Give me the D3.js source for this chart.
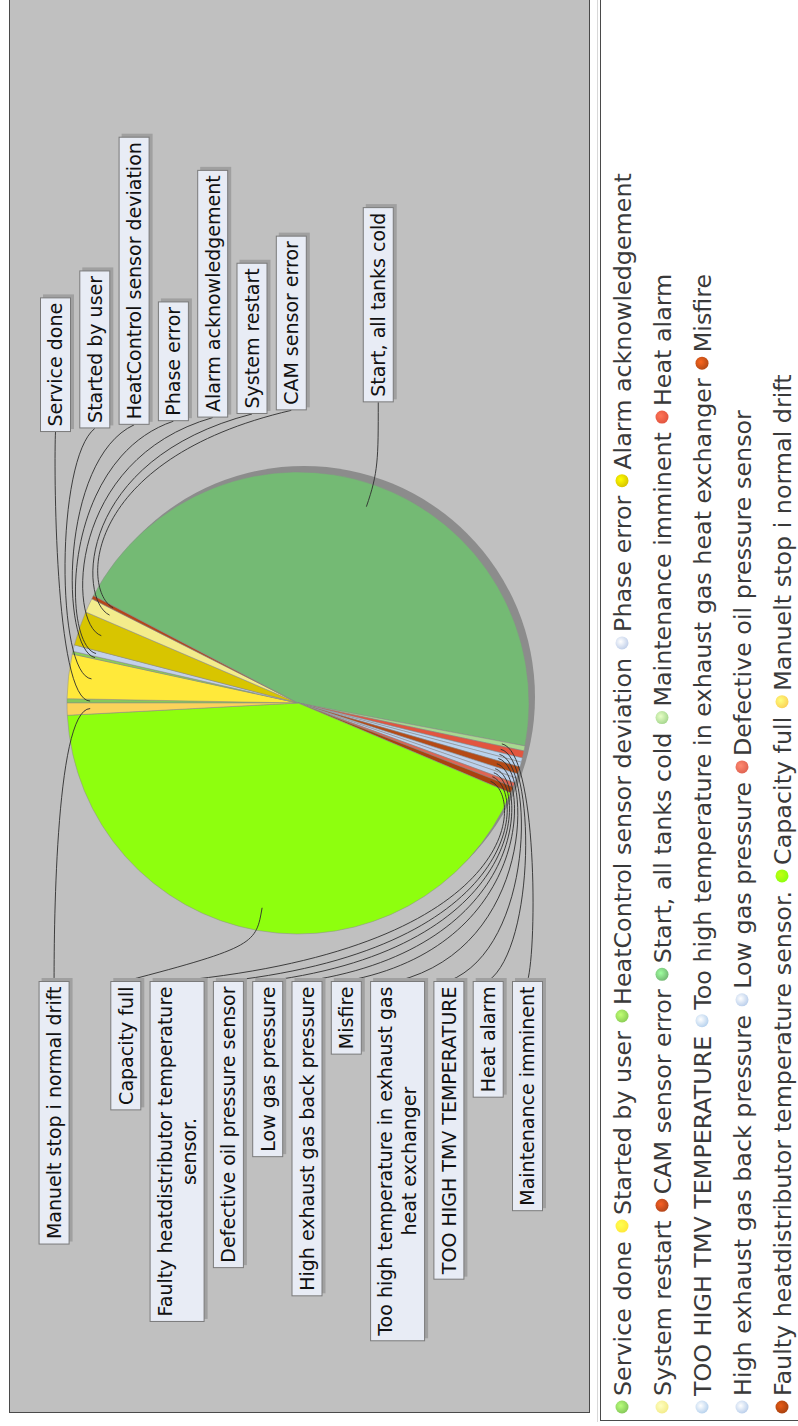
<!DOCTYPE html>
<html><head><meta charset="utf-8">
<script src="https://cdn.jsdelivr.net/npm/d3@7"></script>
<style>body{margin:0;background:#fff}svg{display:block}</style>
</head><body>
<svg id="c" width="798" height="1426"></svg>
<script>
// ---------------- data ----------------
const categories = ["Service done","Started by user","HeatControl sensor deviation","Phase error",
  "Alarm acknowledgement","System restart","CAM sensor error","Start, all tanks cold",
  "Maintenance imminent","Heat alarm","TOO HIGH TMV TEMPERATURE",
  "Too high temperature in exhaust gas heat exchanger","Misfire","High exhaust gas back pressure",
  "Low gas pressure","Defective oil pressure sensor","Faulty heatdistributor temperature sensor.",
  "Capacity full","Manuelt stop i normal drift"];
const values = [0.3,3.1,0.2,0.45,2.4,1.0,0.25,45.3,0.35,0.5,0.3,0.35,0.5,0.3,0.35,0.3,0.45,42.8,0.85];
const colors = ["#86c95a","#ffe93a","#8ccf55","#c3d1ea","#d8c500","#f3ec8c","#b4461a","#74ba74",
  "#a8d890","#e2553f","#b9d3ee","#b9d3ee","#b54a16","#bcd0ec","#bcd0ec","#e06452","#a9420f",
  "#8eff0e","#fbd35a"];

// ---------------- layout ----------------
const svg = d3.select("#c");
const FONT = "DejaVu Sans, Verdana, sans-serif";
const plot = {x0: 9.5, x1: 589.5, y0: -5, y1: 1412.5};
const cx = 298, cy = 703, R = 231;
const linkR = 244, linkPct = 0.9;

// plot background
svg.append("rect").attr("x", plot.x0).attr("y", plot.y0)
  .attr("width", plot.x1 - plot.x0).attr("height", plot.y1 - plot.y0)
  .attr("fill", "#c0c0c0").attr("stroke", "#4a4a4a").attr("stroke-width", 1);

// legend box
svg.append("rect").attr("x", 600.5).attr("y", -5).attr("width", 220).attr("height", 1425.5)
  .attr("fill", "#fff").attr("stroke", "#4a4a4a").attr("stroke-width", 1);
svg.append("line").attr("x1", 597.5).attr("x2", 597.5).attr("y1", -5).attr("y2", 1422)
  .attr("stroke", "#d8d8d8");

// pie
const pie = d3.pie().sort(null).value(d => d)
  .startAngle(-Math.PI / 2).endAngle(3 * Math.PI / 2);
const arcs = pie(values);
const arc = d3.arc().innerRadius(0).outerRadius(R);
const g = svg.append("g").attr("transform", `translate(${cx},${cy})`);
g.append("circle").attr("cx", 6).attr("cy", -6).attr("r", R).attr("fill", "#8c8c8c"); // shadow
g.selectAll("path.slice").data(arcs).enter().append("path").attr("class", "slice")
  .attr("d", arc).attr("fill", (d, i) => colors[i])
  .attr("stroke", "#8a8a8a").attr("stroke-width", 0.5);

// ---------------- text measurement ----------------
const meas = svg.append("text").attr("font-family", FONT).attr("font-size", 19)
  .attr("visibility", "hidden");
function tw(s, size) { meas.attr("font-size", size).text(s); return meas.node().getComputedTextLength(); }

const LFS = 19, lineH = 24, padX = 3.5, padL = 5.5, maxW = 362;
function wrap(s) {
  const words = s.split(" "); const lines = []; let cur = "";
  words.forEach(w => {
    const t = cur ? cur + " " + w : w;
    if (tw(t, LFS) > maxW && cur) { lines.push(cur); cur = w; } else cur = t;
  });
  lines.push(cur); return lines;
}

const labels = arcs.map((a, i) => {
  const mid = (a.startAngle + a.endAngle) / 2;
  const lines = wrap(categories[i]);
  const len = d3.max(lines, l => tw(l, LFS)) + 2 * padL;
  const w = lines.length * lineH + 2 * padX;
  return {i, mid, lines, len, w, top: Math.cos(mid) > 0, nat: cx + linkR * Math.sin(mid)};
});

// distribute labels so they do not overlap
const gap = 8.3;
const topL = labels.filter(d => d.top).sort((a, b) => a.nat - b.nat);
let prevRight = 40 - gap;
topL.forEach(d => {
  let left = Math.max(d.nat - d.w / 2, prevRight + gap);
  d.x = left + d.w / 2; prevRight = left + d.w;
  d.endY = 432 - 0.092 * (d.x - 56);
});
const botL = labels.filter(d => !d.top).sort((a, b) => b.nat - a.nat);
let nextLeft = 543 + gap;
botL.forEach(d => {
  let right = Math.min(d.nat + d.w / 2, nextLeft - gap);
  d.x = right - d.w / 2; nextLeft = right - d.w;
  d.endY = 981;
});

// link curves (target -> anchor -> elbow -> link point)
const lg = svg.append("g");
labels.forEach(d => {
  const ex = cx + linkR * Math.sin(d.mid), ey = cy - linkR * Math.cos(d.mid);
  const px = cx + R * linkPct * Math.sin(d.mid), py = cy - R * linkPct * Math.cos(d.mid);
  const ay = d.top ? cy - linkR : cy + linkR;
  const p = d3.path();
  p.moveTo(d.x, d.endY);
  p.bezierCurveTo(ex, ay, ex, ey, px, py);
  lg.append("path").attr("d", p.toString()).attr("fill", "none")
    .attr("stroke", "#2e2e2e").attr("stroke-width", 0.9);
});

// label boxes
const bg = svg.append("g");
labels.forEach(d => {
  const x0 = d.x - d.w / 2;
  const y0 = d.top ? d.endY - d.len : d.endY;
  bg.append("rect").attr("x", x0 + 3).attr("y", y0 - 3).attr("width", d.w).attr("height", d.len)
    .attr("fill", "#a0a0a0");
  bg.append("rect").attr("x", x0 + 0.5).attr("y", y0 + 0.5).attr("width", d.w - 1).attr("height", d.len - 1)
    .attr("fill", "#e8ecf5").attr("stroke", "#7a7a7a").attr("stroke-width", 1);
  const ymid = y0 + d.len / 2;
  const n = d.lines.length;
  d.lines.forEach((l, k) => {
    const lx = d.x + (k - (n - 1) / 2) * lineH;
    bg.append("text").attr("transform", `translate(${lx},${ymid}) rotate(-90)`)
      .attr("text-anchor", "middle").attr("dy", "0.36em")
      .attr("font-family", FONT).attr("font-size", LFS).attr("fill", "#111").text(l);
  });
});

// ---------------- legend ----------------
const defs = svg.append("defs");
colors.forEach((c, i) => {
  const gr = defs.append("radialGradient").attr("id", "lg" + i)
    .attr("cx", "40%").attr("cy", "40%").attr("r", "60%");
  gr.append("stop").attr("offset", "0%").attr("stop-color", d3.color(c).brighter(0.9));
  gr.append("stop").attr("offset", "100%").attr("stop-color", c);
});
const LEG = 23.8, mD = 14, rowX0 = 622, rowStep = 40, yStart = 1414, yMin = 60;
const legG = svg.append("g");
let row = 0, pos = yStart;
categories.forEach((c, i) => {
  const len = tw(c, LEG);
  const need = mD + 4 + len;
  if (pos - need < yMin && pos !== yStart) { row++; pos = yStart; }
  const x = rowX0 + row * rowStep;
  legG.append("circle").attr("cx", x).attr("cy", pos - mD / 2).attr("r", mD / 2 - 0.5)
    .attr("fill", `url(#lg${i})`);
  const ts = pos - mD - 4;
  legG.append("text").attr("transform", `translate(${x},${ts}) rotate(-90)`)
    .attr("dy", "0.36em").attr("font-family", FONT).attr("font-size", LEG)
    .attr("fill", "#3a3a3a").text(c);
  pos = ts - len - 8;
});
meas.remove();
</script>
</body></html>
